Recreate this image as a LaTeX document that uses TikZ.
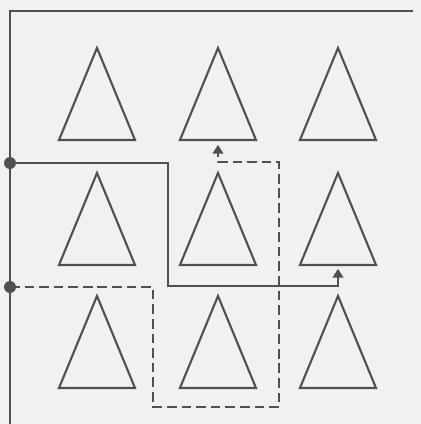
\documentclass[tikz,border=0pt]{standalone}
\usetikzlibrary{arrows.meta,shapes.geometric}
\definecolor{inkGray}{RGB}{80,80,80}
\definecolor{paperGray}{RGB}{241,241,241}
\tikzset{
  tree/.style={isosceles triangle, isosceles triangle stretches, shape border rotate=90,
               draw=inkGray, line width=1.2pt, minimum width=1.52cm, minimum height=1.84cm,
               inner sep=0pt, anchor=south},
  route/.style={draw=inkGray, line width=1.3pt, -{Triangle[length=5pt,width=6pt]}},
  dashroute/.style={route, dash pattern=on 5.5pt off 2.8pt},
  port/.style={circle, fill=inkGray, inner sep=0pt, minimum size=0.24cm}
}

\begin{document}
\begin{tikzpicture}[x=0.02cm, y=-0.02cm]
\fill[paperGray] (0,0) rectangle (421,424);
\useasboundingbox (0,0) rectangle (421,424);
% frame
\draw[inkGray, line width=1.2pt] (10,424) -- (10,11) -- (413,11);
% trees
\foreach \r/\y in {1/141, 2/266, 3/389}
  \foreach \c/\x in {1/97, 2/218, 3/338}
    \node[tree] (t\r\c) at (\x,\y) {};
% entry points
\node[port] (pA) at (10,163) {};
\node[port] (pB) at (10,287) {};
\coordinate (a1) at (168,163);
\coordinate (a2) at (168,286);
\coordinate (b1) at (153,287);
\coordinate (b2) at (153,407);
\coordinate (b3) at (279,407);
\coordinate (b4) at (279,162);
\draw[route, shorten >=1.6pt] (pA.center) -- (a1) -- (a2) -| (t23.south);
\draw[dashroute, shorten >=2.2pt] (pB.center) -- (b1) -- (b2) -- (b3) -- (b4) -| (t12.south);
\end{tikzpicture}
\end{document}
